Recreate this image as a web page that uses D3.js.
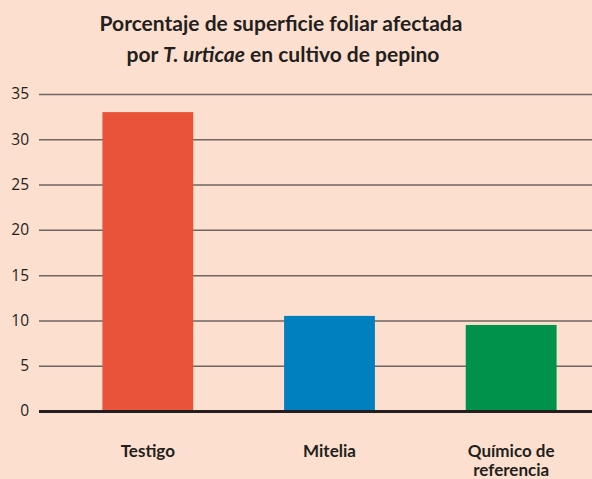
<!DOCTYPE html>
<html>
<head>
<meta charset="utf-8">
<script src="https://cdn.jsdelivr.net/npm/d3@7"></script>
<style>
  body { margin: 0; background: #fcdfcf; }
  svg { display: block; }
</style>
</head>
<body>
<div id="viz-container"></div>
<script>
// data
let categories = [["Testigo"], ["Mitelia"], ["Químico de", "referencia"]];
let values = [33, 10.5, 9.5];
let barColors = ["#e8533a", "#0080be", "#00924a"];
let yTicks = [0, 5, 10, 15, 20, 25, 30, 35];

let width = 592, height = 479;

let viz = d3.select("#viz-container")
  .append("svg")
    .attr("width", width)
    .attr("height", height)
  ;

viz.append("rect")
  .attr("width", width)
  .attr("height", height)
  .attr("fill", "#fcdfcf");

// title
let title = viz.append("text")
  .attr("x", 281)
  .attr("text-anchor", "middle")
  .style("font-family", "Lato, 'Open Sans', sans-serif")
  .style("font-weight", "bold")
  .style("font-size", "21px")
  .style("fill", "#231f20");

title.append("tspan").attr("x", 281).attr("y", 31)
  .text("Porcentaje de superficie foliar afectada");
let line2 = title.append("tspan").attr("x", 283).attr("y", 62);
line2.append("tspan").text("por ");
line2.append("tspan").style("font-style", "italic").text("T. urticae");
line2.append("tspan").text(" en cultivo de pepino");

let y = d3.scaleLinear().domain([0, 35]).range([411, 94]);
let x = d3.scaleBand()
  .domain(d3.range(categories.length))
  .range([57, 602])
  .paddingInner(0.5)
  .paddingOuter(0.25);

// gridlines + tick labels
let yAxis = d3.axisLeft(y)
  .tickValues(yTicks)
  .tickSize(-(width - 39))
  .tickPadding(10);

let yg = viz.append("g")
  .attr("transform", "translate(39,0)")
  .call(yAxis);
yg.select(".domain").remove();
yg.selectAll(".tick line")
  .attr("stroke", "#6f6562")
  .attr("stroke-width", 1.5);
yg.selectAll(".tick text")
  .style("font-family", "'Open Sans', sans-serif")
  .style("font-size", "15.5px")
  .style("fill", "#231f20");

// bars
viz.selectAll(".bar").data(values).enter()
  .append("rect")
    .attr("class", "bar")
    .attr("x", function(d, i){ return x(i); })
    .attr("y", function(d){ return y(d); })
    .attr("width", x.bandwidth())
    .attr("height", function(d){ return y(0) - y(d); })
    .attr("fill", function(d, i){ return barColors[i]; })
  ;

// zero line
viz.append("line")
  .attr("x1", 39).attr("x2", width)
  .attr("y1", y(0) + 0.5).attr("y2", y(0) + 0.5)
  .attr("stroke", "#231f20")
  .attr("stroke-width", 3);

// category labels
let labels = viz.selectAll(".cat").data(categories).enter()
  .append("text")
    .attr("class", "cat")
    .attr("text-anchor", "middle")
    .style("font-family", "Lato, 'Open Sans', sans-serif")
    .style("font-weight", "bold")
    .style("font-size", "17px")
    .style("fill", "#231f20")
  ;
labels.each(function(lines, i){
  let t = d3.select(this);
  lines.forEach(function(l, j){
    t.append("tspan")
      .attr("x", x(i) + x.bandwidth() / 2)
      .attr("y", 457 + j * 19)
      .text(l);
  });
});
</script>
</body>
</html>
